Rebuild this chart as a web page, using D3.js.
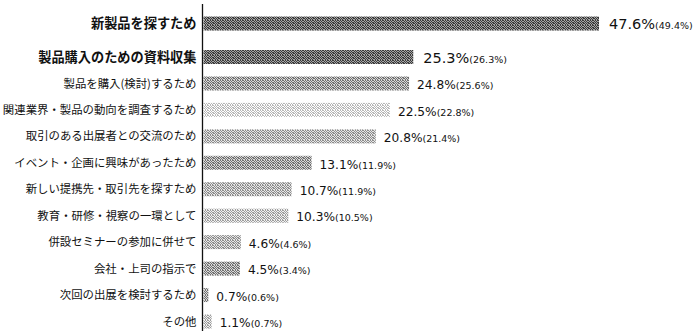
<!DOCTYPE html>
<html><head><meta charset="utf-8">
<script src="https://cdn.jsdelivr.net/npm/d3@7/dist/d3.min.js"></script>
<style>
html,body{margin:0;padding:0;background:#fff;}
svg{display:block;}
</style></head>
<body>
<svg id="chart" width="696" height="331"></svg>
<script>
const categories = [
  "新製品を探すため",
  "製品購入のための資料収集",
  "製品を購入(検討)するため",
  "関連業界・製品の動向を調査するため",
  "取引のある出展者との交流のため",
  "イベント・企画に興味があったため",
  "新しい提携先・取引先を探すため",
  "教育・研修・視察の一環として",
  "併設セミナーの参加に併せて",
  "会社・上司の指示で",
  "次回の出展を検討するため",
  "その他"
];
const values = [47.6, 25.3, 24.8, 22.5, 20.8, 13.1, 10.7, 10.3, 4.6, 4.5, 0.7, 1.1];
const prevValues = [49.4, 26.3, 25.6, 22.8, 21.4, 11.9, 11.9, 10.5, 4.6, 3.4, 0.6, 0.7];
const shades = ["dark", "dark", "mid", "light", "midlight", "mid", "midlight", "light2", "midlight", "mid", "mid", "light2"];

const svg = d3.select("#chart");
const defs = svg.append("defs");
const patternDefs = {
  dark: ["#3a3a3a", "#a4a4a4"],
  mid: ["#707070", "#d8d8d8"],
  midlight: ["#8c8c8c", "#e6e6e6"],
  light: ["#b8b8b8", "#ffffff"],
  light2: ["#9c9c9c", "#f0f0f0"]
};
// fixed stipple tile (5x5) for a halftone look
const stipple = [[0,0],[2,0],[3,0],[1,1],[4,1],[0,2],[2,2],[3,3],[1,3],[4,3],[0,4],[2,4],[3,2]];
Object.entries(patternDefs).forEach(([k, [a, b]]) => {
  const p = defs.append("pattern").attr("id", "p-" + k)
    .attr("patternUnits", "userSpaceOnUse").attr("width", 5).attr("height", 5);
  p.append("rect").attr("width", 5).attr("height", 5).attr("fill", b);
  stipple.forEach(([px, py]) =>
    p.append("rect").attr("x", px).attr("y", py).attr("width", 1).attr("height", 1).attr("fill", a));
});

const x0 = 202.5;
const x = d3.scaleLinear().domain([0, 47.6]).range([x0, 599]);
const idx = d3.range(categories.length);
const y = d3.scaleLinear().domain([0, 1, 11]).range([23.5, 57, 321.5]);
const barH = 14;

// axis line
svg.append("line").attr("x1", x0).attr("x2", x0).attr("y1", 4).attr("y2", 331)
  .attr("stroke", "#111").attr("stroke-width", 1.3);

// bars
svg.selectAll("rect.bar").data(idx).join("rect").attr("class", "bar")
  .attr("x", x0 + 1)
  .attr("y", i => y(i) - barH / 2)
  .attr("width", i => x(values[i]) - x0 - 1)
  .attr("height", barH)
  .attr("fill", i => "url(#p-" + shades[i] + ")");

// category labels
svg.selectAll("text.cat").data(idx).join("text").attr("class", "cat")
  .attr("x", x0 - 6)
  .attr("y", i => y(i))
  .attr("dy", "0.36em")
  .attr("text-anchor", "end")
  .attr("font-family", "'Noto Sans CJK JP', sans-serif")
  .attr("font-size", i => i < 2 ? 13.2 : 11.4)
  .attr("font-weight", i => i < 2 ? 600 : 400)
  .attr("fill", "#111")
  .text(i => categories[i]);

// value labels
const vl = svg.selectAll("text.val").data(idx).join("text").attr("class", "val")
  .attr("x", i => x(values[i]) + (i < 2 ? 10 : 8))
  .attr("y", i => y(i))
  .attr("dy", "0.36em")
  .attr("font-family", "'DejaVu Sans', sans-serif")
  .attr("fill", "#111");
vl.append("tspan")
  .attr("font-size", i => i < 2 ? 14.5 : 12.2)
  .text(i => values[i].toFixed(1) + "%");
vl.append("tspan")
  .attr("font-size", 9.5)
  .text(i => "(" + prevValues[i].toFixed(1) + "%)");
</script>
</body></html>
